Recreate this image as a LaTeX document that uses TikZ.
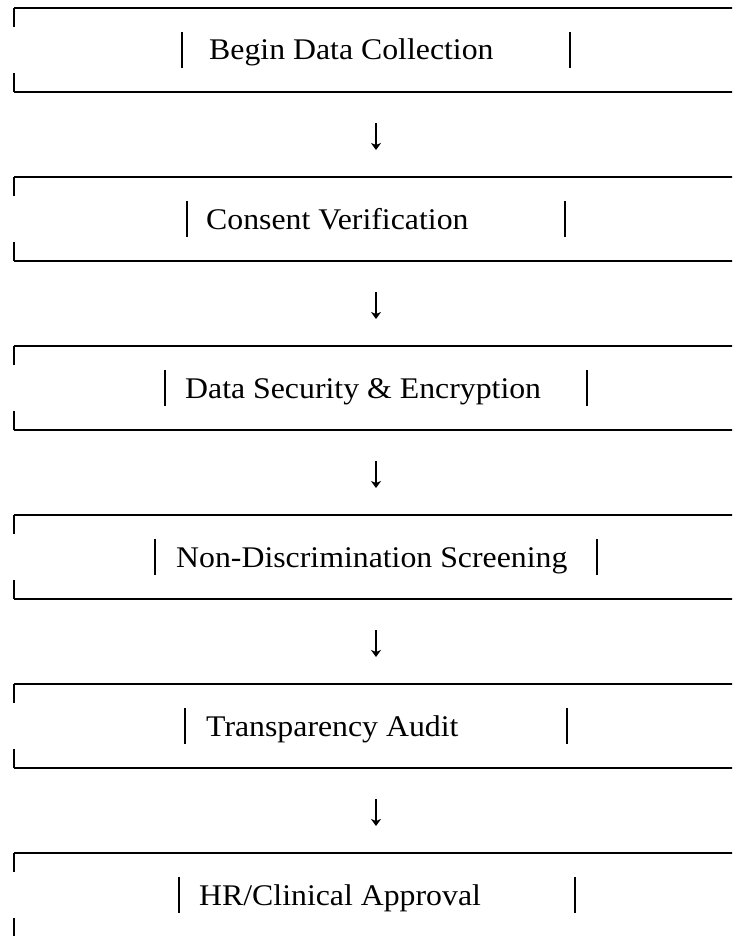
\documentclass[tikz,border=0pt]{standalone}
\usepackage{fontspec}
\setmainfont{Liberation Serif}[FakeStretch=1.06]
\usetikzlibrary{arrows.meta}
\begin{document}
\begin{tikzpicture}[x=1pt,y=-1pt,
  hline/.style={line width=2.6pt},
  vline/.style={line width=2.6pt},
  sidebar/.style={line width=2.6pt},
  steplabel/.style={font=\fontsize{30}{32}\selectfont, anchor=base west, inner sep=0pt},
  flow/.style={line width=1.8pt, -{Stealth[length=7pt,width=10pt,inset=2pt]}}]
\useasboundingbox (0,0) rectangle (732,936);
\clip (0,0) rectangle (732,936);
\foreach \i/\t/\l/\x/\r/\txt in {
  1/8/182/209/570/{Begin Data Collection},
  2/177/187/206/565/{Consent Verification},
  3/346/165/185/587/{Data Security \& Encryption},
  4/515/155/176/597/{Non-Discrimination Screening},
  5/684/185/206/567/{Transparency Audit},
  6/853/179/199/575/{HR/Clinical Approval}}{
  \coordinate (tl\i) at (14,\t);
  \coordinate (tr\i) at (740,\t);
  \coordinate (bl\i) at (14,\t+84);
  \coordinate (br\i) at (740,\t+84);
  \draw[hline] (tr\i) -- (tl\i);
  \draw[vline] (tl\i) -- ++(0,19);
  \draw[hline] (bl\i) -- (br\i);
  \draw[vline] (bl\i) -- ++(0,-19);
  \node[steplabel] (t\i) at (\x,\t+52) {\txt};
  \draw[sidebar] (\l,\t+24) coordinate (lb\i) -- (\l,\t+60);
  \draw[sidebar] (\r,\t+24) coordinate (rb\i) -- (\r,\t+60);
  \ifnum\i<6
    \coordinate (as\i) at (376,\t+115);
    \coordinate (ae\i) at (376,\t+142);
    \draw[flow] (as\i) -- (ae\i);
  \fi
}
\end{tikzpicture}
\end{document}
